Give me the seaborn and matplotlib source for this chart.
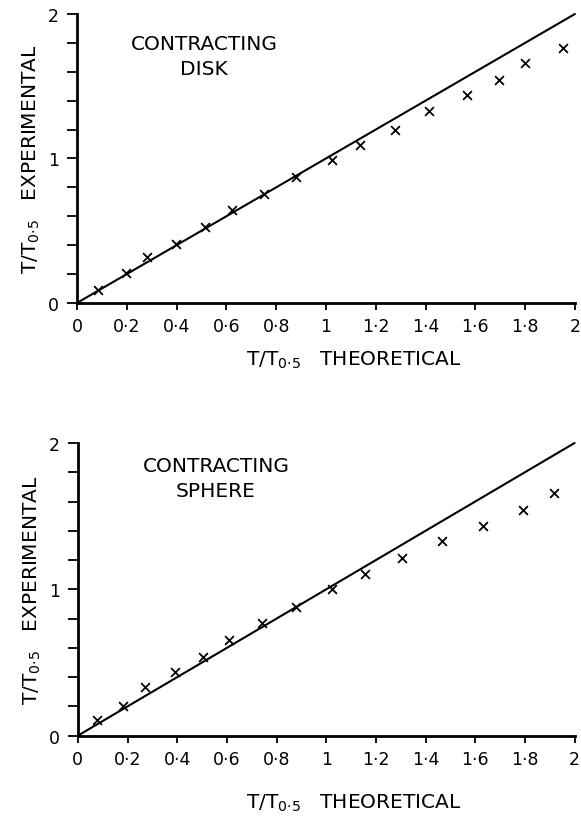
import matplotlib
matplotlib.use("Agg")
import matplotlib.pyplot as plt
import pandas as pd
import seaborn as sns

# values (T/T0.5 theoretical vs experimental)
disk_theo = [0.085, 0.196, 0.281, 0.399, 0.515, 0.621, 0.752, 0.881, 1.023,
             1.136, 1.276, 1.415, 1.565, 1.697, 1.80, 1.953]
disk_exp = [0.09, 0.205, 0.315, 0.41, 0.526, 0.643, 0.757, 0.874, 0.986,
            1.092, 1.195, 1.326, 1.437, 1.543, 1.66, 1.768]

sphere_theo = [0.078, 0.182, 0.27, 0.39, 0.504, 0.609, 0.743, 0.877, 1.025,
               1.158, 1.305, 1.466, 1.633, 1.791, 1.917]
sphere_exp = [0.107, 0.205, 0.33, 0.433, 0.539, 0.655, 0.769, 0.876, 1.001,
              1.104, 1.215, 1.331, 1.436, 1.541, 1.655]

# ideal agreement line
ideal_x = [0, 2]
ideal_y = [0, 2]

tick_pos = [0, 0.2, 0.4, 0.6, 0.8, 1, 1.2, 1.4, 1.6, 1.8, 2]
xtick_labels = ["0", "0·2", "0·4", "0·6", "0·8", "1", "1·2", "1·4", "1·6", "1·8", "2"]
ytick_labels = ["0", "", "", "", "", "1", "", "", "", "", "2"]

sns.set_theme(style="ticks")
plt.rcParams["font.family"] = ["DejaVu Sans"]
plt.rcParams["text.color"] = "black"
plt.rcParams["axes.labelcolor"] = "black"
plt.rcParams["xtick.color"] = "black"
plt.rcParams["ytick.color"] = "black"

fig = plt.figure(figsize=(5.81, 8.28), dpi=100)
ax1 = fig.add_axes([0.1325, 0.6329, 0.857, 0.349])
ax2 = fig.add_axes([0.1340, 0.1103, 0.855, 0.3535])


def panel(ax, theo, exp, title, title_xy, xlab_y):
    sns.lineplot(x=ideal_x, y=ideal_y, ax=ax, color="black", linewidth=1.5,
                 clip_on=False)
    df = pd.DataFrame({"theo": theo, "exp": exp})
    sns.scatterplot(data=df, x="theo", y="exp", ax=ax, marker="x", color="black",
                    s=40, linewidth=1.3, clip_on=False, zorder=3)
    ax.set_xlim(0, 2)
    ax.set_ylim(0, 2)
    ax.set_xticks(tick_pos)
    ax.set_xticklabels(xtick_labels, fontsize=12.5)
    ax.set_yticks(tick_pos)
    ax.set_yticklabels(ytick_labels, fontsize=12.5)
    ax.tick_params(axis="x", direction="out", length=5, width=1.3, pad=5,
                   color="black", labelcolor="black")
    ax.tick_params(axis="y", direction="out", length=7, width=1.3, pad=6,
                   color="black", labelcolor="black")
    sns.despine(ax=ax)
    for s in ["left", "bottom"]:
        ax.spines[s].set_linewidth(2.0)
        ax.spines[s].set_color("black")
    ax.set_xlabel(r"T/T$_{\mathregular{0{\cdot}5}}$   THEORETICAL", fontsize=14.5)
    ax.xaxis.set_label_coords(0.555, xlab_y)
    ax.set_ylabel(r"T/T$_{\mathregular{0{\cdot}5}}$   EXPERIMENTAL", fontsize=14.5)
    ax.yaxis.set_label_coords(-0.07, 0.5)
    ax.text(title_xy[0], title_xy[1], title, transform=ax.transAxes, ha="center",
            va="center", multialignment="center", fontsize=14.5, linespacing=1.35)


panel(ax1, disk_theo, disk_exp, "CONTRACTING\nDISK", (0.255, 0.855), -0.16)
panel(ax2, sphere_theo, sphere_exp, "CONTRACTING\nSPHERE", (0.278, 0.88), -0.19)

fig.savefig("out.png", dpi=100, facecolor="white")
